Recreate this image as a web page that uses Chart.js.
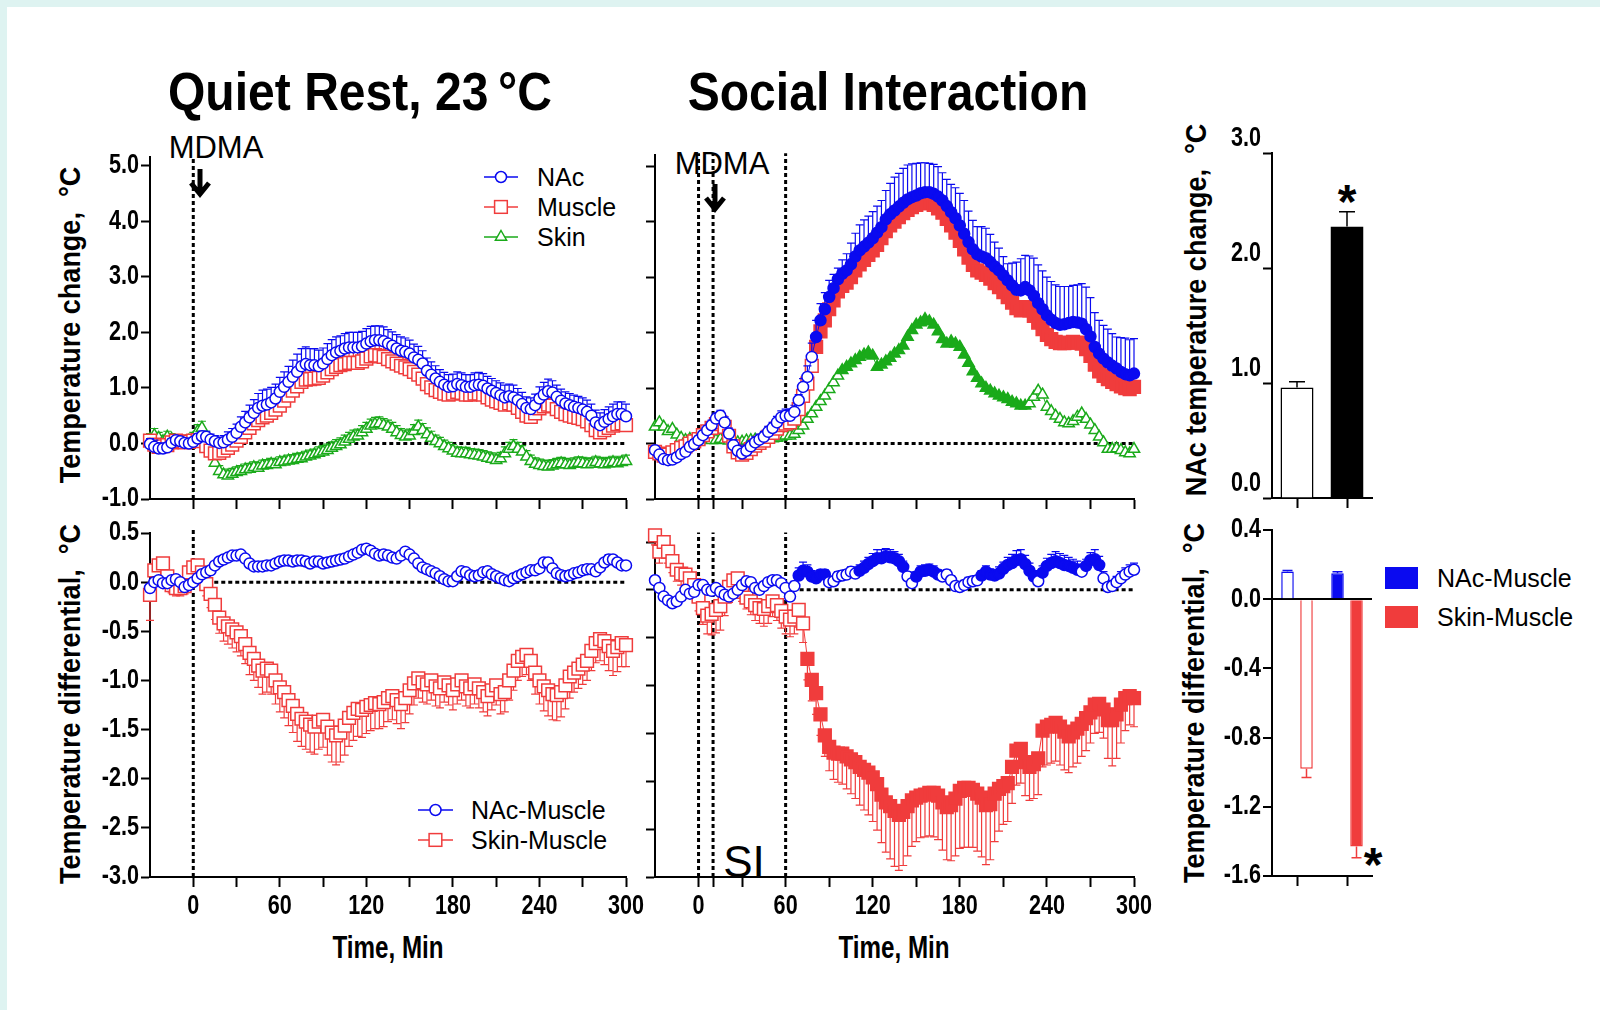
<!DOCTYPE html>
<html lang="en">
<head>
<meta charset="utf-8">
<title>MDMA: brain, muscle and skin temperature</title>
<script src="https://cdn.jsdelivr.net/npm/chart.js@4.4.1/dist/chart.umd.min.js"></script>
<style>
  html, body { margin: 0; padding: 0; }
  body { width: 1600px; height: 1010px; position: relative; overflow: hidden; background: #def3f1; }
  #sheet { position: absolute; left: 7px; top: 7px; width: 1593px; height: 1003px; background: #fff; }
  canvas { position: absolute; z-index: 2; }
  .t { position: absolute; white-space: nowrap; color: #000; line-height: 1; z-index: 1; }
  .c { transform: translate(-50%, -50%); }
  .lg { transform: translateY(-50%); font: 25px 'Liberation Sans', Arial, sans-serif; }
  .head { transform: translate(-50%, -50%) scaleX(0.89); font: bold 54px 'Liberation Sans', Arial, sans-serif; }
  .axt { transform: translate(-50%, -50%) rotate(-90deg) scaleX(0.9); font: bold 30px 'Liberation Sans', Arial, sans-serif; }
  .tm { transform: translate(-50%, -50%) scaleX(0.78); font: bold 31px 'Liberation Sans', Arial, sans-serif; }
  .note { font: 31px 'Liberation Sans', Arial, sans-serif; }
  .si { font: 44px 'Liberation Sans', Arial, sans-serif; }
  .star { transform: translateX(-50%); font: bold 48px 'Liberation Sans', Arial, sans-serif; }
  svg { position: absolute; z-index: 1; overflow: visible; }
  .box { position: absolute; width: 33px; height: 22px; z-index: 1; }
</style>
</head>
<body>
<div id="sheet"></div>

<div class="t head" style="left:360px;top:91px">Quiet Rest, 23&thinsp;°C</div>
<div class="t head" style="left:888px;top:91px">Social Interaction</div>

<div class="t axt" style="left:70px;top:325px">Temperature change,&nbsp; °C</div>
<div class="t axt" style="left:70px;top:704px">Temperature differential,&nbsp; °C</div>
<div class="t axt" style="left:1196px;top:310px">NAc temperature change,&nbsp; °C</div>
<div class="t axt" style="left:1194px;top:703px">Temperature differential,&nbsp; °C</div>
<div class="t tm" style="left:388px;top:948px">Time, Min</div>
<div class="t tm" style="left:894px;top:948px">Time, Min</div>

<div class="t c note" style="left:216px;top:148px">MDMA</div>
<div class="t c note" style="left:722px;top:164px">MDMA</div>
<svg style="left:189px;top:169px" width="22" height="28"><path d="M11 0 V24 M2 14 L11 25 L20 14" stroke="#000" stroke-width="5" fill="none"/></svg>
<svg style="left:704px;top:184px" width="22" height="28"><path d="M11 0 V24 M2 14 L11 25 L20 14" stroke="#000" stroke-width="5" fill="none"/></svg>
<div class="t c si" style="left:744px;top:862px">SI</div>
<div class="t star" style="left:1347px;top:174px">*</div>
<div class="t star" style="left:1373px;top:837px">*</div>

<!-- legend: quiet rest temperatures -->
<svg style="left:484px;top:167px" width="34" height="20"><line x1="0" y1="10" x2="34" y2="10" stroke="#0a0af0" stroke-width="1.5"/><circle cx="17" cy="10" r="5.5" fill="#fff" stroke="#0a0af0" stroke-width="1.5"/></svg>
<div class="t lg" style="left:537px;top:177px">NAc</div>
<svg style="left:484px;top:197px" width="34" height="20"><line x1="0" y1="10" x2="34" y2="10" stroke="#f03c3c" stroke-width="1.5"/><rect x="10.6" y="3.6" width="12.7" height="12.7" fill="#fff" stroke="#f03c3c" stroke-width="1.5"/></svg>
<div class="t lg" style="left:537px;top:207px">Muscle</div>
<svg style="left:484px;top:227px" width="34" height="20"><line x1="0" y1="10" x2="34" y2="10" stroke="#1aaa1a" stroke-width="1.5"/><polygon points="17,3.5 22.6,13.25 11.4,13.25" fill="#fff" stroke="#1aaa1a" stroke-width="1.5"/></svg>
<div class="t lg" style="left:537px;top:237px">Skin</div>

<!-- legend: quiet rest differentials -->
<svg style="left:418px;top:800px" width="35" height="20"><line x1="0" y1="10" x2="35" y2="10" stroke="#0a0af0" stroke-width="1.5"/><circle cx="17.5" cy="10" r="5.5" fill="#fff" stroke="#0a0af0" stroke-width="1.5"/></svg>
<div class="t lg" style="left:471px;top:810px">NAc-Muscle</div>
<svg style="left:418px;top:830px" width="35" height="20"><line x1="0" y1="10" x2="35" y2="10" stroke="#f03c3c" stroke-width="1.5"/><rect x="11.1" y="3.6" width="12.7" height="12.7" fill="#fff" stroke="#f03c3c" stroke-width="1.5"/></svg>
<div class="t lg" style="left:471px;top:840px">Skin-Muscle</div>

<!-- legend: differential bars -->
<div class="box" style="left:1385px;top:567px;background:#0a0af0"></div>
<div class="t lg" style="left:1437px;top:578px">NAc-Muscle</div>
<div class="box" style="left:1385px;top:606px;background:#f03c3c"></div>
<div class="t lg" style="left:1437px;top:617px">Skin-Muscle</div>

<canvas id="qrTop"></canvas>
<canvas id="siTop"></canvas>
<canvas id="barTop"></canvas>
<canvas id="qrBottom"></canvas>
<canvas id="siBottom"></canvas>
<canvas id="barBottom"></canvas>

<script>
const BLUE = '#0a0af0', RED = '#f03c3c', GREEN = '#1aaa1a';

// sample times, min after MDMA
const times = [
  -30,-27,-24,-21,-18,-15,-12,-9,-6,-3,
  0,3,6,9,12,15,18,21,24,27,
  30,33,36,39,42,45,48,51,54,57,
  60,63,66,69,72,75,78,81,84,87,
  90,93,96,99,102,105,108,111,114,117,
  120,123,126,129,132,135,138,141,144,147,
  150,153,156,159,162,165,168,171,174,177,
  180,183,186,189,192,195,198,201,204,207,
  210,213,216,219,222,225,228,231,234,237,
  240,243,246,249,252,255,258,261,264,267,
  270,273,276,279,282,285,288,291,294,297,
  300
];

// ticks
const qrTimeTicks = [0, 30, 60, 90, 120, 150, 180, 210, 240, 270, 300];
const siTimeTicks = [0, 10, 30, 60, 90, 120, 150, 180, 210, 240, 270, 300];
const timeLabels = [0, 60, 120, 180, 240, 300];
const changeTicks = [-1, 0, 1, 2, 3, 4, 5];
const diffTicks = [0.5, 0, -0.5, -1, -1.5, -2, -2.5, -3];
const barChangeTicks = [0, 1, 2, 3];
const barDiffTicks = [0.4, 0, -0.4, -0.8, -1.2, -1.6];

// event lines: MDMA (quiet rest); SI start, MDMA, SI end (social)
const qrEvents = [0];
const siEvents = [0, 10, 60];

// ---- Quiet rest, 23 °C: temperature change ----
const qrNac = [
  -0.01,-0.06,-0.09,-0.09,-0.07,0.01,0.06,0.04,0.01,0.00,
  0.03,0.09,0.13,0.12,0.07,0.04,0.01,0.02,0.07,0.12,
  0.19,0.30,0.38,0.47,0.55,0.64,0.68,0.70,0.74,0.81,
  0.93,1.02,1.11,1.20,1.29,1.39,1.43,1.41,1.41,1.39,
  1.44,1.52,1.59,1.64,1.67,1.71,1.73,1.73,1.73,1.75,
  1.80,1.84,1.86,1.86,1.84,1.80,1.76,1.71,1.67,1.65,
  1.62,1.55,1.51,1.44,1.31,1.24,1.17,1.11,1.06,1.02,
  1.03,1.07,1.05,1.02,1.02,1.05,1.06,1.04,0.99,0.95,
  0.91,0.87,0.83,0.85,0.83,0.78,0.71,0.64,0.62,0.69,
  0.81,0.88,0.94,0.92,0.84,0.77,0.72,0.69,0.66,0.64,
  0.61,0.57,0.50,0.38,0.33,0.39,0.44,0.49,0.53,0.53,
  0.49
];
const qrNacErr = [
  0.10,0.12,0.10,0.08,0.08,0.08,0.07,0.07,0.07,0.08,
  0.08,0.08,0.09,0.10,0.10,0.10,0.10,0.12,0.14,0.15,
  0.16,0.18,0.20,0.22,0.24,0.26,0.28,0.28,0.27,0.26,
  0.26,0.27,0.28,0.30,0.32,0.32,0.31,0.30,0.30,0.29,
  0.28,0.28,0.28,0.28,0.27,0.27,0.27,0.27,0.27,0.27,
  0.27,0.27,0.26,0.26,0.26,0.25,0.25,0.25,0.25,0.25,
  0.24,0.24,0.24,0.23,0.23,0.23,0.23,0.22,0.22,0.22,
  0.22,0.22,0.22,0.22,0.22,0.22,0.22,0.22,0.22,0.22,
  0.22,0.22,0.22,0.22,0.22,0.21,0.21,0.20,0.20,0.20,
  0.21,0.22,0.22,0.21,0.21,0.21,0.21,0.21,0.21,0.21,
  0.21,0.21,0.21,0.22,0.22,0.22,0.22,0.22,0.22,0.22,
  0.22
];
const qrMuscle = [
  0.05,-0.02,-0.06,-0.05,-0.03,0.02,0.05,0.04,0.02,0.03,
  0.05,0.06,0.04,-0.05,-0.13,-0.18,-0.17,-0.13,-0.08,-0.02,
  0.05,0.12,0.20,0.28,0.36,0.42,0.47,0.50,0.55,0.61,
  0.68,0.77,0.86,0.95,1.03,1.11,1.15,1.16,1.17,1.18,
  1.22,1.28,1.34,1.38,1.41,1.43,1.45,1.45,1.45,1.48,
  1.53,1.57,1.59,1.58,1.56,1.52,1.48,1.44,1.40,1.37,
  1.34,1.29,1.24,1.17,1.07,1.01,0.96,0.93,0.90,0.88,
  0.90,0.93,0.91,0.88,0.88,0.90,0.90,0.88,0.83,0.79,
  0.76,0.73,0.70,0.72,0.70,0.64,0.57,0.50,0.48,0.54,
  0.63,0.67,0.70,0.68,0.62,0.57,0.53,0.50,0.48,0.46,
  0.44,0.40,0.33,0.24,0.20,0.24,0.28,0.32,0.35,0.36,
  0.33
];
const qrMuscleErr = [
  0.10,0.10,0.09,0.08,0.08,0.08,0.08,0.08,0.08,0.08,
  0.08,0.08,0.09,0.10,0.10,0.11,0.12,0.13,0.14,0.15,
  0.16,0.17,0.18,0.19,0.20,0.21,0.22,0.22,0.22,0.22,
  0.22,0.23,0.24,0.25,0.25,0.25,0.25,0.25,0.25,0.25,
  0.25,0.25,0.24,0.24,0.24,0.24,0.24,0.24,0.24,0.24,
  0.24,0.24,0.24,0.24,0.23,0.23,0.23,0.23,0.23,0.23,
  0.22,0.22,0.22,0.22,0.21,0.21,0.21,0.20,0.20,0.20,
  0.20,0.20,0.20,0.20,0.20,0.20,0.20,0.20,0.20,0.20,
  0.20,0.20,0.20,0.20,0.20,0.20,0.19,0.19,0.19,0.19,
  0.19,0.19,0.19,0.19,0.19,0.19,0.19,0.19,0.19,0.19,
  0.19,0.19,0.19,0.19,0.19,0.19,0.19,0.19,0.19,0.19,
  0.19
];
const qrSkin = [
  0.08,0.15,0.10,0.04,0.12,0.08,0.02,-0.02,0.00,0.05,
  0.10,0.22,0.28,0.10,-0.10,-0.35,-0.50,-0.56,-0.58,-0.55,
  -0.52,-0.50,-0.47,-0.46,-0.43,-0.44,-0.40,-0.39,-0.37,-0.38,
  -0.34,-0.33,-0.31,-0.30,-0.28,-0.27,-0.24,-0.22,-0.20,-0.17,
  -0.15,-0.12,-0.08,-0.05,-0.02,0.03,0.08,0.12,0.14,0.20,
  0.26,0.32,0.35,0.36,0.33,0.30,0.26,0.20,0.15,0.12,
  0.14,0.22,0.30,0.24,0.16,0.10,0.04,0.00,-0.05,-0.09,
  -0.13,-0.17,-0.18,-0.18,-0.20,-0.21,-0.22,-0.24,-0.26,-0.28,
  -0.30,-0.27,-0.18,-0.10,-0.05,-0.10,-0.15,-0.24,-0.32,-0.37,
  -0.39,-0.41,-0.42,-0.40,-0.38,-0.36,-0.38,-0.39,-0.37,-0.35,
  -0.36,-0.38,-0.37,-0.34,-0.36,-0.38,-0.36,-0.34,-0.36,-0.34,
  -0.32
];
const qrSkinErr = [
  0.10,0.12,0.10,0.10,0.10,0.10,0.09,0.09,0.09,0.10,
  0.10,0.12,0.12,0.12,0.12,0.10,0.10,0.10,0.10,0.10,
  0.10,0.10,0.10,0.10,0.10,0.10,0.10,0.10,0.10,0.10,
  0.10,0.10,0.10,0.10,0.10,0.10,0.10,0.10,0.10,0.11,
  0.11,0.11,0.11,0.12,0.12,0.12,0.12,0.12,0.12,0.12,
  0.12,0.12,0.12,0.12,0.12,0.12,0.12,0.12,0.12,0.12,
  0.12,0.12,0.12,0.12,0.12,0.12,0.11,0.11,0.11,0.11,
  0.11,0.11,0.11,0.11,0.11,0.11,0.11,0.11,0.11,0.11,
  0.11,0.11,0.12,0.12,0.12,0.12,0.11,0.11,0.11,0.11,
  0.11,0.11,0.11,0.11,0.11,0.11,0.11,0.11,0.11,0.11,
  0.11,0.11,0.11,0.11,0.11,0.11,0.11,0.11,0.11,0.11,
  0.11
];

// ---- Quiet rest: differentials ----
const qrNacDiff = [
  -0.06,0.00,0.02,-0.01,-0.01,0.02,0.03,0.00,-0.05,-0.03,
  0.00,0.04,0.08,0.10,0.12,0.17,0.21,0.23,0.25,0.27,
  0.27,0.28,0.24,0.19,0.16,0.16,0.16,0.17,0.17,0.19,
  0.21,0.22,0.22,0.21,0.22,0.22,0.21,0.19,0.21,0.21,
  0.19,0.20,0.21,0.22,0.23,0.24,0.26,0.28,0.30,0.33,
  0.34,0.32,0.29,0.27,0.28,0.27,0.25,0.24,0.27,0.31,
  0.28,0.24,0.19,0.15,0.13,0.11,0.09,0.06,0.03,0.01,
  0.01,0.06,0.11,0.10,0.07,0.06,0.07,0.10,0.11,0.08,
  0.06,0.04,0.02,0.01,0.04,0.06,0.08,0.10,0.12,0.12,
  0.14,0.20,0.20,0.14,0.09,0.07,0.06,0.07,0.09,0.10,
  0.12,0.13,0.13,0.11,0.15,0.20,0.23,0.23,0.20,0.17,
  0.17
];
const qrNacDiffErr = [
  0.04,0.03,0.03,0.03,0.03,0.03,0.03,0.03,0.03,0.03,
  0.03,0.03,0.03,0.03,0.03,0.03,0.03,0.03,0.03,0.03,
  0.03,0.03,0.03,0.03,0.03,0.03,0.03,0.03,0.03,0.03,
  0.03,0.03,0.03,0.03,0.03,0.03,0.03,0.03,0.03,0.03,
  0.03,0.03,0.03,0.03,0.03,0.03,0.03,0.03,0.03,0.03,
  0.03,0.03,0.03,0.03,0.03,0.03,0.03,0.03,0.03,0.03,
  0.03,0.03,0.03,0.03,0.03,0.03,0.03,0.03,0.03,0.03,
  0.03,0.03,0.03,0.03,0.03,0.03,0.03,0.04,0.04,0.03,
  0.03,0.03,0.03,0.03,0.03,0.03,0.03,0.03,0.03,0.03,
  0.03,0.04,0.05,0.04,0.03,0.03,0.03,0.03,0.03,0.03,
  0.03,0.03,0.03,0.03,0.03,0.04,0.05,0.04,0.03,0.03,
  0.03
];
const qrSkinDiff = [
  -0.13,0.12,0.17,0.19,0.06,-0.03,-0.06,-0.06,-0.04,0.10,
  0.15,0.17,0.10,-0.02,-0.12,-0.23,-0.36,-0.42,-0.45,-0.48,
  -0.51,-0.55,-0.63,-0.72,-0.78,-0.85,-0.90,-0.88,-0.90,-1.00,
  -1.07,-1.12,-1.20,-1.26,-1.34,-1.39,-1.42,-1.45,-1.47,-1.42,
  -1.40,-1.47,-1.53,-1.56,-1.53,-1.46,-1.38,-1.33,-1.29,-1.30,
  -1.27,-1.25,-1.23,-1.24,-1.22,-1.18,-1.16,-1.20,-1.24,-1.18,
  -1.10,-1.03,-0.98,-1.02,-1.04,-1.00,-1.06,-1.08,-1.02,-1.05,
  -1.10,-1.04,-1.00,-1.06,-1.08,-1.04,-1.08,-1.12,-1.16,-1.10,
  -1.05,-1.14,-1.12,-1.00,-0.90,-0.80,-0.76,-0.74,-0.80,-0.92,
  -1.00,-1.06,-1.10,-1.14,-1.15,-1.12,-1.05,-0.96,-0.92,-0.88,
  -0.84,-0.80,-0.70,-0.62,-0.58,-0.60,-0.65,-0.70,-0.66,-0.62,
  -0.64
];
const qrSkinDiffErr = [
  0.26,0.10,0.10,0.10,0.08,0.08,0.08,0.08,0.08,0.08,
  0.08,0.08,0.10,0.12,0.14,0.15,0.16,0.18,0.18,0.19,
  0.20,0.20,0.20,0.22,0.22,0.22,0.24,0.24,0.24,0.24,
  0.25,0.26,0.26,0.27,0.28,0.28,0.28,0.28,0.28,0.28,
  0.28,0.29,0.30,0.30,0.30,0.30,0.29,0.28,0.28,0.28,
  0.27,0.26,0.26,0.25,0.25,0.24,0.24,0.24,0.25,0.25,
  0.24,0.22,0.20,0.20,0.20,0.20,0.20,0.20,0.20,0.20,
  0.20,0.20,0.20,0.20,0.20,0.20,0.20,0.20,0.20,0.20,
  0.20,0.20,0.20,0.20,0.20,0.20,0.20,0.20,0.20,0.22,
  0.24,0.25,0.26,0.26,0.26,0.25,0.24,0.22,0.20,0.20,
  0.20,0.20,0.20,0.20,0.22,0.24,0.25,0.25,0.25,0.24,
  0.22
];

// ---- Social interaction: temperature change ----
const siNac = [
  -0.12,-0.20,-0.28,-0.30,-0.29,-0.25,-0.19,-0.15,-0.06,-0.01,
  0.06,0.15,0.24,0.33,0.45,0.50,0.38,0.18,-0.03,-0.13,
  -0.18,-0.13,-0.05,0.02,0.07,0.12,0.21,0.28,0.38,0.47,
  0.50,0.50,0.57,0.78,1.02,1.20,1.56,1.92,2.22,2.42,
  2.64,2.80,2.96,3.06,3.12,3.23,3.37,3.48,3.55,3.62,
  3.70,3.80,3.90,4.04,4.13,4.20,4.27,4.34,4.40,4.44,
  4.47,4.51,4.53,4.53,4.50,4.45,4.38,4.28,4.17,4.06,
  3.93,3.78,3.63,3.50,3.41,3.37,3.34,3.27,3.19,3.12,
  3.03,2.94,2.85,2.77,2.76,2.82,2.76,2.66,2.53,2.42,
  2.31,2.23,2.17,2.14,2.15,2.17,2.19,2.18,2.16,2.06,
  1.93,1.74,1.62,1.53,1.46,1.40,1.35,1.29,1.25,1.23,
  1.26
];
const siNacErr = [
  0.08,0.08,0.08,0.08,0.08,0.08,0.08,0.08,0.08,0.08,
  0.08,0.08,0.08,0.09,0.10,0.10,0.10,0.10,0.10,0.10,
  0.10,0.10,0.10,0.10,0.10,0.10,0.10,0.10,0.11,0.12,
  0.12,0.12,0.12,0.10,0.15,0.20,0.25,0.30,0.30,0.30,
  0.30,0.25,0.20,0.25,0.30,0.38,0.42,0.46,0.48,0.48,
  0.48,0.48,0.48,0.52,0.56,0.60,0.60,0.62,0.62,0.60,
  0.58,0.55,0.53,0.52,0.53,0.54,0.50,0.48,0.50,0.55,
  0.58,0.60,0.56,0.52,0.50,0.54,0.54,0.50,0.44,0.40,
  0.34,0.30,0.40,0.50,0.57,0.57,0.62,0.68,0.69,0.69,
  0.69,0.69,0.69,0.69,0.68,0.66,0.66,0.68,0.72,0.76,
  0.70,0.62,0.60,0.60,0.60,0.58,0.57,0.62,0.65,0.64,
  0.63
];
const siMuscle = [
  -0.15,-0.18,-0.22,-0.20,-0.16,-0.12,-0.08,-0.05,0.00,0.04,
  0.08,0.15,0.22,0.28,0.35,0.38,0.30,0.14,-0.05,-0.16,
  -0.20,-0.17,-0.10,-0.04,0.01,0.05,0.12,0.19,0.27,0.33,
  0.36,0.38,0.45,0.62,0.86,1.08,1.40,1.74,2.02,2.22,
  2.42,2.58,2.74,2.84,2.90,3.00,3.12,3.23,3.31,3.40,
  3.48,3.58,3.70,3.83,3.93,4.00,4.08,4.15,4.21,4.26,
  4.30,4.33,4.35,4.34,4.30,4.24,4.16,4.05,3.93,3.80,
  3.65,3.50,3.35,3.22,3.12,3.08,3.04,2.97,2.89,2.82,
  2.73,2.64,2.54,2.44,2.40,2.46,2.40,2.30,2.18,2.06,
  1.96,1.88,1.83,1.81,1.81,1.82,1.83,1.82,1.80,1.70,
  1.58,1.42,1.30,1.22,1.16,1.11,1.07,1.03,1.00,0.98,
  1.02
];
const siSkin = [
  0.30,0.38,0.30,0.22,0.26,0.16,0.10,0.06,0.08,0.05,
  0.05,0.07,0.08,0.06,0.06,0.08,0.07,0.05,0.04,0.02,
  0.03,0.05,0.06,0.07,0.06,0.08,0.10,0.09,0.10,0.12,
  0.14,0.14,0.17,0.24,0.32,0.44,0.54,0.66,0.76,0.86,
  0.98,1.10,1.22,1.32,1.38,1.44,1.50,1.56,1.60,1.64,
  1.58,1.38,1.42,1.48,1.54,1.62,1.68,1.76,1.92,2.04,
  2.14,2.18,2.24,2.20,2.14,2.02,1.88,1.80,1.84,1.80,
  1.74,1.60,1.45,1.30,1.18,1.08,1.00,0.95,0.90,0.86,
  0.83,0.80,0.75,0.72,0.68,0.68,0.72,0.84,0.95,0.88,
  0.66,0.58,0.50,0.44,0.38,0.36,0.40,0.48,0.54,0.44,
  0.34,0.24,0.12,0.02,-0.10,-0.10,-0.09,-0.12,-0.16,-0.18,
  -0.10
];
// stretches of time drawn with solid markers
const siNacFilled = [[81, 300]];
const siMuscleFilled = [[81, 300]];
const siSkinFilled = [[99, 226]];

// ---- Social interaction: differentials ----
const siNacDiff = [
  0.10,0.02,-0.07,-0.11,-0.14,-0.12,-0.07,0.00,-0.04,-0.02,
  0.05,0.05,0.00,-0.01,0.02,-0.02,-0.05,-0.07,-0.04,0.00,
  0.05,0.09,0.08,0.02,0.00,0.04,0.08,0.10,0.10,0.07,
  0.02,-0.07,0.04,0.15,0.20,0.19,0.14,0.12,0.16,0.16,
  0.08,0.09,0.14,0.15,0.16,0.19,0.17,0.20,0.23,0.27,
  0.30,0.33,0.33,0.35,0.34,0.33,0.30,0.24,0.14,0.07,
  0.14,0.19,0.20,0.21,0.19,0.16,0.14,0.16,0.10,0.04,
  0.03,0.05,0.08,0.09,0.10,0.15,0.19,0.16,0.15,0.17,
  0.22,0.26,0.28,0.31,0.32,0.27,0.20,0.14,0.09,0.18,
  0.25,0.28,0.30,0.28,0.26,0.25,0.23,0.21,0.19,0.25,
  0.31,0.32,0.26,0.12,0.03,0.04,0.08,0.12,0.16,0.19,
  0.21
];
const siNacDiffErr = [
  0.04,0.04,0.04,0.04,0.04,0.04,0.04,0.04,0.04,0.04,
  0.04,0.04,0.04,0.04,0.04,0.04,0.04,0.04,0.04,0.04,
  0.04,0.04,0.04,0.04,0.04,0.04,0.04,0.04,0.04,0.04,
  0.04,0.04,0.05,0.08,0.09,0.07,0.06,0.05,0.05,0.05,
  0.05,0.05,0.05,0.05,0.05,0.05,0.06,0.06,0.07,0.07,
  0.08,0.09,0.09,0.08,0.08,0.07,0.07,0.06,0.05,0.05,
  0.05,0.06,0.06,0.06,0.06,0.05,0.05,0.05,0.05,0.05,
  0.05,0.05,0.05,0.05,0.05,0.05,0.06,0.06,0.06,0.07,
  0.07,0.08,0.09,0.10,0.10,0.09,0.08,0.06,0.05,0.07,
  0.08,0.09,0.10,0.10,0.10,0.09,0.09,0.09,0.08,0.07,
  0.08,0.10,0.09,0.07,0.06,0.06,0.06,0.07,0.07,0.07,
  0.07
];
const siSkinDiff = [
  0.57,0.40,0.50,0.40,0.30,0.21,0.17,0.16,0.12,0.05,
  -0.07,-0.19,-0.27,-0.25,-0.21,-0.17,-0.07,0.03,0.10,0.12,
  -0.02,-0.08,-0.12,-0.16,-0.19,-0.20,-0.17,-0.12,-0.16,-0.22,
  -0.28,-0.31,-0.28,-0.21,-0.35,-0.72,-0.94,-1.08,-1.30,-1.52,
  -1.64,-1.70,-1.71,-1.71,-1.74,-1.77,-1.80,-1.85,-1.88,-1.91,
  -1.96,-2.03,-2.14,-2.22,-2.26,-2.31,-2.35,-2.32,-2.26,-2.20,
  -2.17,-2.15,-2.14,-2.12,-2.12,-2.15,-2.22,-2.27,-2.25,-2.18,
  -2.10,-2.07,-2.07,-2.09,-2.13,-2.17,-2.25,-2.24,-2.13,-2.08,
  -2.05,-2.02,-1.85,-1.68,-1.66,-1.80,-1.85,-1.82,-1.76,-1.47,
  -1.43,-1.41,-1.39,-1.43,-1.48,-1.53,-1.49,-1.45,-1.40,-1.34,
  -1.28,-1.20,-1.19,-1.25,-1.36,-1.36,-1.30,-1.20,-1.13,-1.11,
  -1.13
];
const siSkinDiffErr = [
  0.10,0.12,0.12,0.12,0.12,0.12,0.12,0.12,0.12,0.14,
  0.15,0.17,0.19,0.22,0.24,0.25,0.20,0.16,0.12,0.10,
  0.10,0.12,0.14,0.16,0.16,0.18,0.18,0.16,0.16,0.18,
  0.18,0.18,0.18,0.18,0.20,0.22,0.22,0.22,0.22,0.22,
  0.25,0.28,0.30,0.32,0.34,0.36,0.38,0.40,0.42,0.44,
  0.46,0.48,0.50,0.52,0.55,0.58,0.58,0.56,0.52,0.48,
  0.46,0.44,0.44,0.45,0.46,0.46,0.50,0.55,0.58,0.60,
  0.60,0.62,0.62,0.60,0.60,0.62,0.62,0.58,0.50,0.44,
  0.40,0.40,0.38,0.36,0.36,0.35,0.35,0.36,0.38,0.38,
  0.40,0.40,0.40,0.40,0.40,0.38,0.36,0.36,0.34,0.34,
  0.32,0.30,0.30,0.30,0.40,0.48,0.46,0.40,0.34,0.30,
  0.30
];
const siNacDiffFilled = [[69, 88], [111, 142], [150, 165], [195, 231], [237, 263], [267, 277]];
const siSkinDiffFilled = [[75, 300]];

// ---- group means, first 60 min after MDMA ----
const barGroups = ['Quiet Rest', 'Social Interaction'];
const nacChange = [0.96, 2.36];
const nacChangeErr = [0.05, 0.13];
const nacMuscleDiff = [0.16, 0.15];
const nacMuscleDiffErr = [0.006, 0.008];
const skinMuscleDiff = [-0.98, -1.43];
const skinMuscleDiffErr = [0.05, 0.065];

// where each plot area sits on the page
const panels = {
  qrTop:     { l: 150,  t: 157, r: 626,  b: 499, yW: 70, xH: 20, padT: 20 },
  siTop:     { l: 655,  t: 155, r: 1134, b: 499, yW: 20, xH: 20, padT: 20 },
  barTop:    { l: 1272, t: 153, r: 1372, b: 498, yW: 70, xH: 20, padT: 40 },
  qrBottom:  { l: 150,  t: 533, r: 626,  b: 877, yW: 70, xH: 60, padT: 20 },
  siBottom:  { l: 655,  t: 542, r: 1134, b: 877, yW: 20, xH: 60, padT: 20 },
  barBottom: { l: 1272, t: 530, r: 1372, b: 876, yW: 70, xH: 20, padT: 20 }
};
const PAD_R = 30;

// error bars: stems drawn under the markers, over the bars
function drawErrors(chart, args) {
  const ds = chart.data.datasets[args.index];
  if (!ds.errors) return;
  const meta = args.meta;
  const yScale = chart.scales[meta.yAxisID];
  const ctx = chart.ctx;
  ctx.save();
  ctx.strokeStyle = ds.errColor || ds.borderColor;
  ctx.lineWidth = ds.errWidth || 1.2;
  meta.data.forEach((el, i) => {
    const raw = ds.data[i];
    const v = typeof raw === 'number' ? raw : raw.y;
    const e = ds.errors[i];
    if (!e) return;
    const y0 = yScale.getPixelForValue(v);
    const y1 = yScale.getPixelForValue(v + ds.errDir * e);
    ctx.beginPath();
    ctx.moveTo(el.x, y0);
    ctx.lineTo(el.x, y1);
    ctx.moveTo(el.x - ds.capHalf, y1);
    ctx.lineTo(el.x + ds.capHalf, y1);
    ctx.stroke();
  });
  ctx.restore();
}
const errorBars = {
  id: 'errorBars',
  beforeDatasetDraw(chart, args) { if (!chart.data.datasets[args.index].errAfter) drawErrors(chart, args); },
  afterDatasetDraw(chart, args) { if (chart.data.datasets[args.index].errAfter) drawErrors(chart, args); }
};
Chart.register(errorBars);

// tick labels in a squeezed bold face (the built-in labels are left blank)
function condensedTicks(spec) {
  return {
    id: 'condensedTicks',
    afterDraw(chart) {
      const ctx = chart.ctx;
      ['x', 'y'].forEach(axis => {
        const fmt = spec[axis];
        if (!fmt) return;
        const s = chart.scales[axis];
        ctx.save();
        ctx.font = "bold 27px 'Liberation Sans', Arial, sans-serif";
        ctx.fillStyle = '#000';
        s.ticks.forEach(t => {
          const txt = fmt(t.value);
          if (!txt) return;
          ctx.save();
          if (axis === 'x') {
            ctx.translate(s.getPixelForValue(t.value), s.top + 16);
            ctx.textAlign = 'center';
            ctx.textBaseline = 'top';
          } else {
            ctx.translate(s.right - 11, s.getPixelForValue(t.value) + (spec.yShift || 0));
            ctx.textAlign = 'right';
            ctx.textBaseline = 'middle';
          }
          ctx.scale(0.8, 1);
          ctx.fillText(txt, 0, 0);
          ctx.restore();
        });
        ctx.restore();
      });
    }
  };
}
const timeLabel = v => timeLabels.includes(v) ? String(v) : '';
const oneDecimal = v => v.toFixed(1);

const inRanges = (t, ranges) => ranges.some(([a, b]) => t >= a && t <= b);

function series(label, vals, color, style, radius, filled, errs, dir, order) {
  return {
    label,
    data: times.map((t, i) => ({ x: t, y: vals[i] })),
    borderColor: color,
    borderWidth: 1,
    pointStyle: style,
    pointRadius: radius,
    pointBorderWidth: 1.5,
    pointBorderColor: color,
    pointBackgroundColor: times.map(t => inRanges(t, filled) ? color : '#fff'),
    clip: false,
    order,
    errors: errs,
    errDir: dir,
    capHalf: 4
  };
}

function dashedLine(points) {
  return { data: points, borderColor: '#000', borderWidth: 3, borderDash: [4, 3], pointRadius: 0, clip: false, order: 10 };
}
const eventLines = (events, yMin, yMax) => events.map(t => dashedLine([{ x: t, y: yMin }, { x: t, y: yMax }]));
const zeroLine = (from, to) => dashedLine([{ x: from, y: 0 }, { x: to, y: 0 }]);

function timeAxis(p, tickVals) {
  return {
    type: 'linear', min: -30, max: 300,
    afterBuildTicks: s => { s.ticks = tickVals.map(v => ({ value: v })); },
    afterFit: s => { s.height = p.xH; },
    ticks: { callback: () => '', autoSkip: false, maxRotation: 0, minRotation: 0 },
    grid: { drawOnChartArea: false, drawTicks: true, tickLength: 10, tickWidth: 2, tickColor: '#000' },
    border: { display: true, color: '#000', width: 2 }
  };
}

function valueAxis(p, min, max, tickVals) {
  return {
    type: 'linear', min, max,
    afterBuildTicks: s => { s.ticks = tickVals.map(v => ({ value: v })); },
    afterFit: s => { s.width = p.yW; },
    ticks: { callback: () => '', autoSkip: false },
    grid: { drawOnChartArea: false, drawTicks: true, tickLength: 9, tickWidth: 2, tickColor: '#000' },
    border: { display: true, color: '#000', width: 2 }
  };
}

function makeChart(id, type, data, xAxis, yAxis, labels) {
  const p = panels[id];
  const cv = document.getElementById(id);
  cv.width = p.yW + (p.r - p.l) + PAD_R;
  cv.height = p.padT + (p.b - p.t) + p.xH;
  cv.style.left = (p.l - p.yW) + 'px';
  cv.style.top = (p.t - p.padT) + 'px';
  return new Chart(cv, {
    type, data,
    options: {
      responsive: false, animation: false, events: [],
      layout: { padding: { top: p.padT, right: PAD_R, left: 0, bottom: 0 } },
      plugins: { legend: { display: false }, tooltip: { enabled: false } },
      scales: { x: xAxis, y: yAxis }
    },
    plugins: [condensedTicks(labels)]
  });
}

// Quiet rest, temperature change
makeChart('qrTop', 'line', {
  datasets: [
    series('NAc', qrNac, BLUE, 'circle', 5.5, [], qrNacErr, 1, 0),
    series('Muscle', qrMuscle, RED, 'rect', 9, [], qrMuscleErr, 1, 1),
    series('Skin', qrSkin, GREEN, 'triangle', 6.5, [], qrSkinErr, 1, 2),
    ...eventLines(qrEvents, -1, 5.16),
    zeroLine(qrEvents[0], 300)
  ]
}, timeAxis(panels.qrTop, qrTimeTicks), valueAxis(panels.qrTop, -1, 5.16, changeTicks), { y: oneDecimal });

// Social interaction, temperature change
makeChart('siTop', 'line', {
  datasets: [
    series('NAc', siNac, BLUE, 'circle', 5.5, siNacFilled, siNacErr, 1, 0),
    series('Muscle', siMuscle, RED, 'rect', 9, siMuscleFilled, null, 1, 1),
    series('Skin', siSkin, GREEN, 'triangle', 6.5, siSkinFilled, null, 1, 2),
    ...eventLines(siEvents, -1, 5.23),
    zeroLine(siEvents[2], 300)
  ]
}, timeAxis(panels.siTop, siTimeTicks), valueAxis(panels.siTop, -1, 5.2, changeTicks), {});

// Quiet rest, differentials
makeChart('qrBottom', 'line', {
  datasets: [
    series('NAc-Muscle', qrNacDiff, BLUE, 'circle', 5.5, [], qrNacDiffErr, 1, 0),
    series('Skin-Muscle', qrSkinDiff, RED, 'rect', 9, [], qrSkinDiffErr, -1, 1),
    ...eventLines(qrEvents, -3, 0.53),
    zeroLine(qrEvents[0], 300)
  ]
}, timeAxis(panels.qrBottom, qrTimeTicks), valueAxis(panels.qrBottom, -3, 0.5, diffTicks), { x: timeLabel, y: oneDecimal });

// Social interaction, differentials
makeChart('siBottom', 'line', {
  datasets: [
    series('NAc-Muscle', siNacDiff, BLUE, 'circle', 5.5, siNacDiffFilled, siNacDiffErr, 1, 0),
    series('Skin-Muscle', siSkinDiff, RED, 'rect', 9, siSkinDiffFilled, siSkinDiffErr, -1, 1),
    ...eventLines(siEvents, -3, 0.6),
    zeroLine(siEvents[2], 300)
  ]
}, timeAxis(panels.siBottom, siTimeTicks), valueAxis(panels.siBottom, -3, 0.5, diffTicks), { x: timeLabel });

// category axis shared by both bar panels
function groupAxis(p) {
  return {
    type: 'category', offset: true,
    afterFit: s => { s.height = p.xH; },
    ticks: { callback: () => '', autoSkip: false },
    grid: { offset: false, drawOnChartArea: false, drawTicks: true, tickLength: 10, tickWidth: 2, tickColor: '#000' },
    border: { display: true, color: '#000', width: 2 }
  };
}

// NAc temperature change bars (labels sit a little above their ticks)
makeChart('barTop', 'bar', {
  labels: barGroups,
  datasets: [{
    data: nacChange,
    backgroundColor: ['#fff', '#000'],
    borderColor: '#000', borderWidth: 1.5,
    barPercentage: 0.66, categoryPercentage: 1,
    errors: nacChangeErr, errDir: 1, errAfter: true, errColor: '#000', errWidth: 1.5, capHalf: 8
  }]
}, groupAxis(panels.barTop), valueAxis(panels.barTop, 0, 3, barChangeTicks), { y: oneDecimal, yShift: -14 });

// differential bars, with a solid zero line
const barDiffAxis = valueAxis(panels.barBottom, -1.6, 0.4, barDiffTicks);
barDiffAxis.grid = {
  drawOnChartArea: true, drawTicks: true, tickLength: 9, tickWidth: 2, tickColor: '#000', lineWidth: 2,
  color: c => (c.tick && c.tick.value === 0) ? '#000' : 'rgba(0,0,0,0)'
};
makeChart('barBottom', 'bar', {
  labels: barGroups,
  datasets: [{
    label: 'NAc-Muscle', data: nacMuscleDiff,
    backgroundColor: ['#fff', BLUE], borderColor: BLUE, borderWidth: 1.5,
    barPercentage: 0.66, categoryPercentage: 0.76,
    errors: nacMuscleDiffErr, errDir: 1, errAfter: true, errWidth: 1.5, capHalf: 5
  }, {
    label: 'Skin-Muscle', data: skinMuscleDiff,
    backgroundColor: ['#fff', RED], borderColor: RED, borderWidth: 1.5,
    barPercentage: 0.66, categoryPercentage: 0.76,
    errors: skinMuscleDiffErr, errDir: -1, errAfter: true, errWidth: 1.5, capHalf: 5
  }]
}, groupAxis(panels.barBottom), barDiffAxis, { y: oneDecimal });
</script>
</body>
</html>
